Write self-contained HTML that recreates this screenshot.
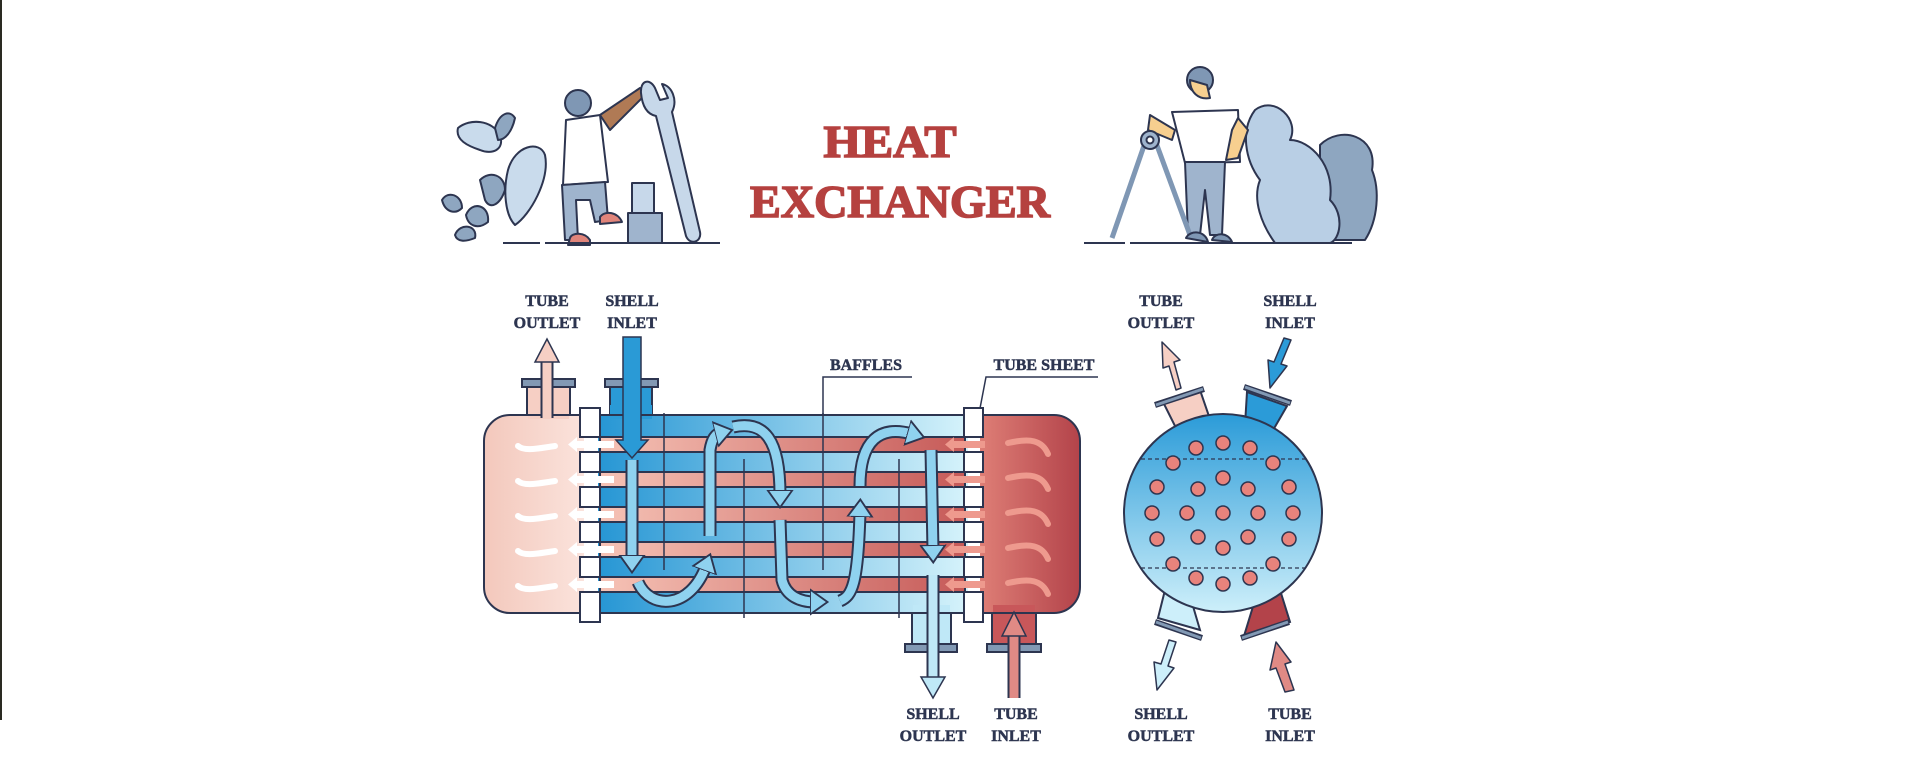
<!DOCTYPE html>
<html><head><meta charset="utf-8"><style>
html,body{margin:0;padding:0;background:#fff;}
svg{display:block;}
text{font-family:"Liberation Serif",serif;font-weight:bold;}
</style></head><body>
<svg width="1920" height="761" viewBox="0 0 1920 761" xmlns="http://www.w3.org/2000/svg">
<defs>
<linearGradient id="shell" x1="0" x2="1" y1="0" y2="0"><stop offset="0" stop-color="#2696d4"/><stop offset="1" stop-color="#d6f3fb"/></linearGradient>
<linearGradient id="lhead" x1="0" x2="1"><stop offset="0" stop-color="#f3c8bc"/><stop offset="1" stop-color="#fbe3dc"/></linearGradient>
<linearGradient id="rhead" x1="0" x2="1"><stop offset="0" stop-color="#de7e76"/><stop offset="1" stop-color="#b3434a"/></linearGradient>
<linearGradient id="tube" x1="0" x2="1"><stop offset="0" stop-color="#f6c3b6"/><stop offset="1" stop-color="#c65a58"/></linearGradient>
<linearGradient id="circ" x1="0" x2="0" y1="0" y2="1"><stop offset="0" stop-color="#2b9bd8"/><stop offset="1" stop-color="#cdeffa"/></linearGradient>
<marker id="ah" markerUnits="userSpaceOnUse" markerWidth="30" markerHeight="30" refX="4" refY="12" orient="auto" viewBox="0 0 24 24">
<polygon points="0,2 14,12 0,22" fill="#8fd2ef" stroke="#2d3550" stroke-width="1.5"/></marker>
<clipPath id="bodyclip"><rect x="484" y="415" width="596" height="198" rx="26"/></clipPath>
<clipPath id="cclip"><circle cx="1223" cy="513" r="99"/></clipPath>
</defs>

<line x1="1" y1="0" x2="1" y2="720" stroke="#2a2a22" stroke-width="2"/>

<!-- title -->
<text x="890" y="157" font-size="46" fill="#b5413f" stroke="#b5413f" stroke-width="1.6" text-anchor="middle" textLength="133" lengthAdjust="spacingAndGlyphs">HEAT</text>
<text x="900" y="217" font-size="46" fill="#b5413f" stroke="#b5413f" stroke-width="1.6" text-anchor="middle" textLength="300" lengthAdjust="spacingAndGlyphs">EXCHANGER</text>

<!-- left illustration -->
<g stroke="#2d3550" stroke-width="2" stroke-linejoin="round">
<path d="M458,128 C470,118 492,120 500,135 C505,150 492,155 480,150 C468,146 455,140 458,128Z" fill="#c9dbec"/>
<path d="M495,128 C500,112 510,110 515,118 C512,132 505,140 498,140Z" fill="#8ea6c0"/>
<path d="M508,170 C515,145 540,140 545,155 C550,180 530,215 515,225 C505,215 503,190 508,170Z" fill="#c9dbec"/>
<path d="M480,180 C490,170 505,175 505,190 C500,205 490,210 485,200Z" fill="#8ea6c0"/>
<path d="M442,200 C448,190 462,195 462,208 C455,215 445,212 442,200Z" fill="#8ea6c0"/>
<path d="M466,215 C472,200 490,205 488,222 C478,230 468,226 466,215Z" fill="#8ea6c0"/>
<path d="M455,235 C460,222 478,225 475,238 C465,242 457,242 455,235Z" fill="#8ea6c0"/>
<circle cx="578" cy="103" r="13" fill="#7f97b4"/>
<path d="M566,120 L600,115 L608,182 L563,185Z" fill="#fff"/>
<path d="M600,115 L640,88 L646,94 L610,130Z" fill="#b07a55"/>
<path d="M562,185 L605,182 L608,220 L595,222 L590,200 L576,200 L578,240 L565,240Z" fill="#9fb4cd"/>
<path d="M570,238 C572,232 585,232 590,240 L590,245 L568,245Z" fill="#e0847a"/>
<path d="M600,217 C605,210 618,212 622,222 L600,224Z" fill="#e0847a"/>
<path d="M641,93 C640,80 650,78 655,88 L660,100 L668,98 L662,84 C672,86 678,100 672,112 L700,232 C702,242 690,246 686,236 L656,116 C646,114 642,104 641,93Z" fill="#c7d8ea"/>
<rect x="632" y="183" width="22" height="30" fill="#c7d8ea"/>
<rect x="628" y="213" width="34" height="30" fill="#9fb4cd"/>
</g>
<line x1="503" y1="243" x2="540" y2="243" stroke="#2d3550" stroke-width="2"/>
<line x1="545" y1="243" x2="720" y2="243" stroke="#2d3550" stroke-width="2"/>

<!-- right illustration -->
<g stroke="#2d3550" stroke-width="2" stroke-linejoin="round">
<path d="M1320,145 C1340,125 1378,135 1372,170 C1380,190 1378,220 1365,240 L1320,240Z" fill="#8ea6c0"/>
<path d="M1255,110 C1275,95 1300,120 1290,140 C1310,140 1335,165 1330,200 C1345,215 1340,240 1330,243 L1275,243 C1262,225 1252,200 1260,180 C1245,160 1240,130 1255,110Z" fill="#b9cfe5"/>
<circle cx="1200" cy="80" r="13" fill="#7f97b4"/>
<path d="M1190,80 C1190,92 1198,100 1210,98 L1207,85Z" fill="#f7cf8f"/>
<path d="M1172,112 L1238,110 L1240,162 L1185,163Z" fill="#fff"/>
<path d="M1185,162 L1225,162 L1222,235 L1210,235 L1205,190 L1200,235 L1188,235Z" fill="#9fb4cd"/>
<path d="M1238,118 L1248,130 L1238,158 L1226,160 L1232,130Z" fill="#f7cf8f"/>
<path d="M1150,115 L1175,130 L1172,140 L1148,130Z" fill="#f7cf8f"/>
<path d="M1146,140 L1112,238 M1155,140 L1190,235" fill="none" stroke-width="5" stroke="#7f97b4"/>
<circle cx="1150" cy="140" r="9" fill="#9fb4cd"/>
<circle cx="1150" cy="140" r="3.5" fill="#fff"/>
<path d="M1186,238 C1190,230 1205,230 1208,242Z M1212,240 C1215,232 1228,232 1232,242Z" fill="#7f97b4"/>
</g>
<line x1="1084" y1="243" x2="1125" y2="243" stroke="#2d3550" stroke-width="2"/>
<line x1="1130" y1="243" x2="1352" y2="243" stroke="#2d3550" stroke-width="2"/>

<!-- labels -->
<g font-size="16" fill="#2d3550" stroke="#2d3550" stroke-width="0.5" text-anchor="middle">
<text x="547" y="306">TUBE</text><text x="547" y="328">OUTLET</text>
<text x="632" y="306">SHELL</text><text x="632" y="328">INLET</text>
<text x="866" y="370">BAFFLES</text>
<text x="1044" y="370">TUBE SHEET</text>
<text x="933" y="719">SHELL</text><text x="933" y="741">OUTLET</text>
<text x="1016" y="719">TUBE</text><text x="1016" y="741">INLET</text>
<text x="1161" y="306">TUBE</text><text x="1161" y="328">OUTLET</text>
<text x="1290" y="306">SHELL</text><text x="1290" y="328">INLET</text>
<text x="1161" y="719">SHELL</text><text x="1161" y="741">OUTLET</text>
<text x="1290" y="719">TUBE</text><text x="1290" y="741">INLET</text>
</g>
<g stroke="#2d3550" stroke-width="1.5" fill="none">
<path d="M912,377 L823,377 L823,416"/>
<path d="M1098,377 L986,377 L977,424"/>
</g>

<!-- nozzles main -->
<g stroke="#2d3550" stroke-width="2">
<rect x="527" y="386" width="43" height="32" fill="#f6cfc4"/>
<rect x="610" y="386" width="42" height="32" fill="#2a9ad6"/>
<rect x="912" y="610" width="39" height="36" fill="#bfe8f7"/>
<rect x="992" y="610" width="44" height="36" fill="#c8575a"/>
<rect x="522" y="379" width="53" height="8" fill="#8299b4"/>
<rect x="605" y="379" width="53" height="8" fill="#8299b4"/>
<rect x="905" y="644" width="52" height="8" fill="#8299b4"/>
<rect x="987" y="644" width="54" height="8" fill="#8299b4"/>
</g>

<!-- body -->
<g clip-path="url(#bodyclip)">
<rect x="484" y="415" width="100" height="198" fill="url(#lhead)"/>
<rect x="598" y="415" width="370" height="198" fill="url(#shell)"/>
<rect x="980" y="415" width="100" height="198" fill="url(#rhead)"/>
</g>
<rect x="610" y="405" width="42" height="14" fill="#2a9ad6"/>
<rect x="528" y="405" width="41" height="14" fill="#f6cfc4"/>
<rect x="913" y="605" width="37" height="10" fill="#bfe8f7"/>
<rect x="993" y="605" width="42" height="10" fill="#c8575a"/>
<rect x="484" y="415" width="596" height="198" rx="26" fill="none" stroke="#2d3550" stroke-width="2"/>

<!-- tubes -->
<g stroke="#2d3550" stroke-width="2">
<rect x="600" y="437" width="365" height="15" fill="url(#tube)"/>
<rect x="600" y="472" width="365" height="15" fill="url(#tube)"/>
<rect x="600" y="507" width="365" height="15" fill="url(#tube)"/>
<rect x="600" y="542" width="365" height="15" fill="url(#tube)"/>
<rect x="600" y="577" width="365" height="15" fill="url(#tube)"/>
</g>
<!-- tube sheets -->
<g stroke="#2d3550" stroke-width="2" fill="#fff">
<rect x="580" y="408" width="20" height="29"/><rect x="580" y="452" width="20" height="20"/><rect x="580" y="487" width="20" height="20"/><rect x="580" y="522" width="20" height="20"/><rect x="580" y="557" width="20" height="20"/><rect x="580" y="592" width="20" height="30"/>
<rect x="964" y="408" width="19" height="29"/><rect x="964" y="452" width="19" height="20"/><rect x="964" y="487" width="19" height="20"/><rect x="964" y="522" width="19" height="20"/><rect x="964" y="557" width="19" height="20"/><rect x="964" y="592" width="19" height="30"/>
</g>
<!-- baffles -->
<g stroke="#2d3550" stroke-width="1.5">
<line x1="664" y1="413" x2="664" y2="570"/>
<line x1="744" y1="459" x2="744" y2="618"/>
<line x1="823" y1="413" x2="823" y2="570"/>
<line x1="899" y1="459" x2="899" y2="618"/>
</g>
<!-- tube-side arrows -->
<g fill="#fff">
<polygon points="614,441 577,441 577,437 568,444.5 577,452 577,448 614,448"/>
<polygon points="614,476 577,476 577,472 568,479.5 577,487 577,483 614,483"/>
<polygon points="614,511 577,511 577,507 568,514.5 577,522 577,518 614,518"/>
<polygon points="614,546 577,546 577,542 568,549.5 577,557 577,553 614,553"/>
<polygon points="614,581 577,581 577,577 568,584.5 577,592 577,588 614,588"/>
</g>
<g fill="#ee9a8e">
<polygon points="985,441 954,441 954,437 945,444.5 954,452 954,448 985,448"/>
<polygon points="985,476 954,476 954,472 945,479.5 954,487 954,483 985,483"/>
<polygon points="985,511 954,511 954,507 945,514.5 954,522 954,518 985,518"/>
<polygon points="985,546 954,546 954,542 945,549.5 954,557 954,553 985,553"/>
<polygon points="985,581 954,581 954,577 945,584.5 954,592 954,588 985,588"/>
</g>
<g fill="none" stroke="#fff" stroke-width="6" stroke-linecap="round">
<path d="M518,446 C525,452 540,448 555,446"/><path d="M518,481 C525,487 540,483 555,481"/><path d="M518,516 C525,522 540,518 555,516"/><path d="M518,551 C525,557 540,553 555,551"/><path d="M518,586 C525,592 540,588 555,586"/>
</g>
<g fill="none" stroke="#ee9a8e" stroke-width="6" stroke-linecap="round">
<path d="M1048,454 C1042,440 1030,438 1008,443"/><path d="M1048,489 C1042,475 1030,473 1008,478"/><path d="M1048,524 C1042,510 1030,508 1008,513"/><path d="M1048,559 C1042,545 1030,543 1008,548"/><path d="M1048,594 C1042,580 1030,578 1008,583"/>
</g>

<!-- shell flow arrows -->
<g fill="none" stroke-linecap="butt">
<g stroke="#2d3550" stroke-width="13">
<path d="M632,460 L632,560"/>
<path d="M638,582 C650,610 690,610 706,566"/>
<path d="M710,536 L710,450 C712,438 716,434 720,433"/>
<path d="M733,427 C765,420 780,440 780,495"/>
<path d="M780,520 L782,580 C786,596 800,602 815,602"/>
<path d="M840,601 C852,596 858,585 860,512"/>
<path d="M860,486 C860,440 880,425 912,434"/>
<path d="M931,450 L933,550"/>
<path d="M933,575 L933,680"/>
<path d="M1014,698 L1014,632"/>
<path d="M547,418 L547,357"/>
</g>
<g stroke-width="9">
<path d="M632,460 L632,560" stroke="#8fd2ef" marker-end="url(#ah)"/>
<path d="M638,582 C650,610 690,610 706,566" stroke="#8fd2ef" marker-end="url(#ah)"/>
<path d="M710,536 L710,450 C712,438 716,434 720,433" stroke="#8fd2ef" marker-end="url(#ah)"/>
<path d="M733,427 C765,420 780,440 780,495" stroke="#8fd2ef" marker-end="url(#ah)"/>
<path d="M780,520 L782,580 C786,596 800,602 815,602" stroke="#8fd2ef" marker-end="url(#ah)"/>
<path d="M840,601 C852,596 858,585 860,512" stroke="#8fd2ef" marker-end="url(#ah)"/>
<path d="M860,486 C860,440 880,425 912,434" stroke="#8fd2ef" marker-end="url(#ah)"/>
<path d="M931,450 L933,550" stroke="#8fd2ef" marker-end="url(#ah)"/>
<path d="M933,575 L933,680" stroke="#bfe8f7"/>
<path d="M1014,698 L1014,632" stroke="#e08a85"/>
<path d="M547,418 L547,357" stroke="#f6cfc4"/>
</g>
</g>
<polygon points="921,677 945,677 933,698" fill="#bfe8f7" stroke="#2d3550" stroke-width="1.5"/>
<polygon points="1002,636 1026,636 1014,612" fill="#e08a85" stroke="#2d3550" stroke-width="1.5"/>
<polygon points="535,362 559,362 547,339" fill="#f6cfc4" stroke="#2d3550" stroke-width="1.5"/>
<path d="M623,337 L641,337 L641,440 L648,440 L632,458 L616,440 L623,440Z" fill="#2a9ad6" stroke="#2d3550" stroke-width="1.5"/>

<!-- circle cross-section -->
<g stroke="#2d3550" stroke-width="2">
<polygon points="1163,402 1200,390 1212,425 1180,436" fill="#f6cfc4"/>
<polygon points="1247,392 1287,406 1272,432 1245,425" fill="#2b9bd8"/>
<polygon points="1165,590 1190,596 1200,630 1158,618" fill="#cdeffa"/>
<polygon points="1255,600 1280,590 1290,622 1244,636" fill="#b3434a"/>
</g>
<circle cx="1223" cy="513" r="99" fill="url(#circ)" stroke="#2d3550" stroke-width="2"/>
<g stroke="#2d3550" stroke-width="1.2" stroke-dasharray="4,3" clip-path="url(#cclip)">
<line x1="1120" y1="459" x2="1330" y2="459"/><line x1="1120" y1="568" x2="1330" y2="568"/>
</g>
<g stroke="#2d3550" stroke-width="6" stroke-linecap="butt">
<line x1="1155" y1="405" x2="1204" y2="389"/>
<line x1="1244" y1="387" x2="1291" y2="403"/>
<line x1="1155" y1="622" x2="1202" y2="638"/>
<line x1="1241" y1="638" x2="1289" y2="622"/>
</g>
<g stroke="#8299b4" stroke-width="3">
<line x1="1156" y1="405" x2="1203" y2="389"/>
<line x1="1245" y1="387" x2="1290" y2="403"/>
<line x1="1156" y1="622" x2="1201" y2="638"/>
<line x1="1242" y1="638" x2="1288" y2="622"/>
</g>
<g fill="#e8837c" stroke="#2d3550" stroke-width="1.5">
<circle cx="1196" cy="448" r="7"/><circle cx="1223" cy="443" r="7"/><circle cx="1250" cy="448" r="7"/>
<circle cx="1173" cy="463" r="7"/><circle cx="1273" cy="463" r="7"/>
<circle cx="1223" cy="478" r="7"/>
<circle cx="1157" cy="487" r="7"/><circle cx="1198" cy="489" r="7"/><circle cx="1248" cy="489" r="7"/><circle cx="1289" cy="487" r="7"/>
<circle cx="1152" cy="513" r="7"/><circle cx="1187" cy="513" r="7"/><circle cx="1223" cy="513" r="7"/><circle cx="1258" cy="513" r="7"/><circle cx="1293" cy="513" r="7"/>
<circle cx="1157" cy="539" r="7"/><circle cx="1198" cy="537" r="7"/><circle cx="1248" cy="537" r="7"/><circle cx="1289" cy="539" r="7"/>
<circle cx="1223" cy="548" r="7"/>
<circle cx="1173" cy="564" r="7"/><circle cx="1273" cy="564" r="7"/>
<circle cx="1196" cy="578" r="7"/><circle cx="1223" cy="584" r="7"/><circle cx="1250" cy="578" r="7"/>
</g>
<!-- circle arrows -->
<g stroke="#2d3550" stroke-width="1.5" stroke-linejoin="round">
<polygon points="1176,390 1169,366 1163,368 1162,342 1180,360 1174,362 1181,388" fill="#f6cfc4"/>
<polygon points="1291,340 1281,364 1287,366 1270,388 1268,360 1274,362 1284,338" fill="#2b9bd8"/>
<polygon points="1176,642 1168,666 1174,668 1157,690 1154,662 1161,664 1169,640" fill="#cdeffa"/>
<polygon points="1294,690 1285,664 1291,662 1276,642 1270,670 1276,668 1285,692" fill="#e08a85"/>
</g>
</svg>
</body></html>
